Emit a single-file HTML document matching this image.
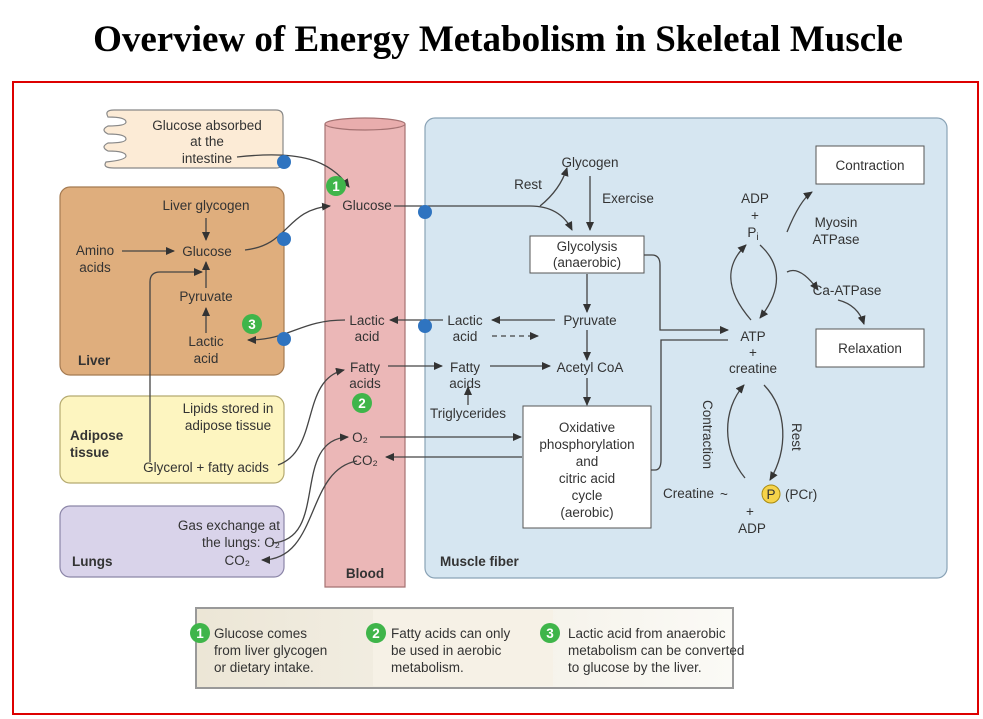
<!DOCTYPE html>
<html><head><meta charset="utf-8"><style>
html,body{margin:0;padding:0;background:#fff;width:983px;height:719px;overflow:hidden}
svg{display:block}
text{font-family:"Liberation Sans",Arial,sans-serif;font-size:13.5px;fill:#333}
.t{font-family:"Liberation Serif",serif;font-weight:bold;font-size:37px;fill:#000}
.b{font-weight:bold}
.ln{stroke:#444;stroke-width:1.3;fill:none}
</style></head><body>
<svg width="983" height="719" viewBox="0 0 983 719">
<defs><marker id="a" markerWidth="9" markerHeight="8" refX="8" refY="4" orient="auto" markerUnits="userSpaceOnUse"><path d="M0,0 L9,4 L0,8 z" fill="#333"/></marker></defs>
<text class="t" x="498" y="51" text-anchor="middle">Overview of Energy Metabolism in Skeletal Muscle</text>
<rect x="13" y="82" width="965" height="632" fill="none" stroke="#d00" stroke-width="2"/>

<!-- intestine -->
<g>
<path d="M114,110 H276 Q283,110 283,117 V162 Q283,168 276,168 H114 Q102,168 106,162 Q126,160 126,156 Q126,151 108,151 Q100,147 108,143 Q126,143 126,139 Q126,134 108,134 Q100,130 108,126 Q126,126 126,122 Q126,117 108,117 Q104,110 114,110 Z" fill="#fcebd6" stroke="#888" stroke-width="1.2"/>
<text x="207" y="130" text-anchor="middle">Glucose absorbed</text>
<text x="207" y="146" text-anchor="middle">at the</text>
<text x="207" y="163" text-anchor="middle">intestine</text>
</g>
<!-- liver -->
<g>
<rect x="60" y="187" width="224" height="188" rx="10" fill="#dfae7d" stroke="#a57b52" stroke-width="1.2"/>
<text x="206" y="210" text-anchor="middle">Liver glycogen</text>
<text x="95" y="255" text-anchor="middle">Amino</text><text x="95" y="272" text-anchor="middle">acids</text>
<text x="207" y="256" text-anchor="middle">Glucose</text>
<text x="206" y="301" text-anchor="middle">Pyruvate</text>
<text x="206" y="346" text-anchor="middle">Lactic</text><text x="206" y="363" text-anchor="middle">acid</text>
<text class="b" x="78" y="365">Liver</text>
</g>
<!-- adipose -->
<g>
<rect x="60" y="396" width="224" height="87" rx="10" fill="#fdf5c0" stroke="#b5aa70" stroke-width="1.2"/>
<text x="228" y="413" text-anchor="middle">Lipids stored in</text>
<text x="228" y="430" text-anchor="middle">adipose tissue</text>
<text class="b" x="70" y="440">Adipose</text><text class="b" x="70" y="457">tissue</text>
<text x="206" y="472" text-anchor="middle">Glycerol + fatty acids</text>
</g>
<!-- lungs -->
<g>
<rect x="60" y="506" width="224" height="71" rx="10" fill="#d9d3ea" stroke="#8c86a8" stroke-width="1.2"/>
<text x="280" y="530" text-anchor="end">Gas exchange at</text>
<text x="280" y="547" text-anchor="end">the lungs: O₂</text>
<text x="250" y="565" text-anchor="end">CO₂</text>
<text class="b" x="72" y="566">Lungs</text>
</g>
<!-- muscle -->
<g>
<rect x="425" y="118" width="522" height="460" rx="10" fill="#d6e6f1" stroke="#8aa3b6" stroke-width="1.2"/>
<text class="b" x="440" y="566">Muscle fiber</text>
</g>
<!-- blood -->
<g>
<path d="M325,124 V587 H405 V124" fill="#ebb7b7" stroke="#a57272" stroke-width="1.2"/>
<ellipse cx="365" cy="124" rx="40" ry="6" fill="#e9adad" stroke="#a57272" stroke-width="1.2"/>
<text class="b" x="365" y="578" text-anchor="middle">Blood</text>
<text x="367" y="210" text-anchor="middle">Glucose</text>
<text x="367" y="325" text-anchor="middle">Lactic</text><text x="367" y="341" text-anchor="middle">acid</text>
<text x="365" y="372" text-anchor="middle">Fatty</text><text x="365" y="388" text-anchor="middle">acids</text>
<text x="360" y="442" text-anchor="middle">O₂</text>
<text x="365" y="465" text-anchor="middle">CO₂</text>
</g>
<!-- muscle texts & boxes -->
<text x="590" y="167" text-anchor="middle">Glycogen</text>
<text x="528" y="189" text-anchor="middle">Rest</text>
<text x="628" y="203" text-anchor="middle">Exercise</text>
<rect x="530" y="236" width="114" height="37" fill="#fff" stroke="#555"/>
<text x="587" y="251" text-anchor="middle">Glycolysis</text><text x="587" y="267" text-anchor="middle">(anaerobic)</text>
<text x="590" y="325" text-anchor="middle">Pyruvate</text>
<text x="465" y="325" text-anchor="middle">Lactic</text><text x="465" y="341" text-anchor="middle">acid</text>
<text x="465" y="372" text-anchor="middle">Fatty</text><text x="465" y="388" text-anchor="middle">acids</text>
<text x="590" y="372" text-anchor="middle">Acetyl CoA</text>
<text x="468" y="418" text-anchor="middle">Triglycerides</text>
<rect x="523" y="406" width="128" height="122" fill="#fff" stroke="#555"/>
<text x="587" y="432" text-anchor="middle">Oxidative</text>
<text x="587" y="449" text-anchor="middle">phosphorylation</text>
<text x="587" y="466" text-anchor="middle">and</text>
<text x="587" y="483" text-anchor="middle">citric acid</text>
<text x="587" y="500" text-anchor="middle">cycle</text>
<text x="587" y="517" text-anchor="middle">(aerobic)</text>
<rect x="816" y="146" width="108" height="38" fill="#fff" stroke="#555"/>
<text x="870" y="170" text-anchor="middle">Contraction</text>
<rect x="816" y="329" width="108" height="38" fill="#fff" stroke="#555"/>
<text x="870" y="353" text-anchor="middle">Relaxation</text>
<text x="755" y="203" text-anchor="middle">ADP</text><text x="755" y="220" text-anchor="middle">+</text><text x="753" y="237" text-anchor="middle">P<tspan font-size="10" dy="3">i</tspan></text>
<text x="836" y="227" text-anchor="middle">Myosin</text><text x="836" y="244" text-anchor="middle">ATPase</text>
<text x="847" y="295" text-anchor="middle">Ca-ATPase</text>
<text x="753" y="341" text-anchor="middle">ATP</text><text x="753" y="357" text-anchor="middle">+</text><text x="753" y="373" text-anchor="middle">creatine</text>
<text x="714" y="498" text-anchor="end">Creatine</text>
<text x="720" y="499">~</text>
<circle cx="771" cy="494" r="9" fill="#f6d34a" stroke="#a88a10"/><text x="771" y="499" text-anchor="middle" font-size="11">P</text>
<text x="785" y="499">(PCr)</text>
<text x="750" y="516" text-anchor="middle">+</text><text x="752" y="533" text-anchor="middle">ADP</text>
<text x="0" y="0" transform="translate(703,400) rotate(90)">Contraction</text>
<text x="0" y="0" transform="translate(792,423) rotate(90)">Rest</text>

<!-- arrows -->
<g>
<path class="ln" d="M237,157 C300,150 330,160 349,187" marker-end="url(#a)"/>
<path class="ln" d="M245,250 C290,245 285,210 330,206" marker-end="url(#a)"/>
<path class="ln" d="M394,206 H530 Q560,206 572,230" marker-end="url(#a)"/>
<path class="ln" d="M540,206 Q560,190 567,168" marker-end="url(#a)"/>
<path class="ln" d="M590,176 V230" marker-end="url(#a)"/>
<path class="ln" d="M206,218 V240" marker-end="url(#a)"/>
<path class="ln" d="M122,251 H174" marker-end="url(#a)"/>
<path class="ln" d="M206,288 V262" marker-end="url(#a)"/>
<path class="ln" d="M206,333 V308" marker-end="url(#a)"/>
<path class="ln" d="M150,462 V282 Q150,272 160,272 H202" marker-end="url(#a)"/>
<path class="ln" d="M345,320 C300,320 290,340 248,340" marker-end="url(#a)"/>
<path class="ln" d="M443,320 H390" marker-end="url(#a)"/>
<path class="ln" d="M555,320 H492" marker-end="url(#a)"/>
<path class="ln" d="M492,336 H538" stroke-dasharray="5,4" marker-end="url(#a)"/>
<path class="ln" d="M587,274 V312" marker-end="url(#a)"/>
<path class="ln" d="M587,330 V360" marker-end="url(#a)"/>
<path class="ln" d="M490,366 H550" marker-end="url(#a)"/>
<path class="ln" d="M388,366 H442" marker-end="url(#a)"/>
<path class="ln" d="M468,405 V387" marker-end="url(#a)"/>
<path class="ln" d="M587,378 V405" marker-end="url(#a)"/>
<path class="ln" d="M278,465 C320,450 300,380 344,370" marker-end="url(#a)"/>
<path class="ln" d="M272,543 C330,540 290,440 348,437" marker-end="url(#a)"/>
<path class="ln" d="M380,437 H521" marker-end="url(#a)"/>
<path class="ln" d="M522,457 H386" marker-end="url(#a)"/>
<path class="ln" d="M357,461 C305,470 320,560 262,560" marker-end="url(#a)"/>
<path class="ln" d="M644,255 H652 Q660,255 660,265 V330 H728" marker-end="url(#a)"/>
<path class="ln" d="M651,470 H655 Q661,470 661,460 V340 H728"/>
<path class="ln" d="M751,320 C725,290 725,265 746,245" marker-end="url(#a)"/>
<path class="ln" d="M760,245 C782,265 782,290 760,318" marker-end="url(#a)"/>
<path class="ln" d="M787,232 Q800,200 812,192" marker-end="url(#a)"/>
<path class="ln" d="M787,272 Q800,265 818,290" marker-end="url(#a)"/>
<path class="ln" d="M838,300 Q858,305 864,324" marker-end="url(#a)"/>
<path class="ln" d="M745,478 C722,450 722,410 744,385" marker-end="url(#a)"/>
<path class="ln" d="M764,385 C788,410 788,450 770,480" marker-end="url(#a)"/>
</g>
<!-- blue dots -->
<g fill="#2f74c0">
<circle cx="284" cy="162" r="7"/><circle cx="284" cy="239" r="7"/><circle cx="284" cy="339" r="7"/>
<circle cx="425" cy="212" r="7"/><circle cx="425" cy="326" r="7"/>
</g>
<!-- green badges -->
<g>
<circle cx="336" cy="186" r="10" fill="#3fb54a"/><text x="336" y="191" text-anchor="middle" style="fill:#fff" class="b">1</text>
<circle cx="362" cy="403" r="10" fill="#3fb54a"/><text x="362" y="408" text-anchor="middle" style="fill:#fff" class="b">2</text>
<circle cx="252" cy="324" r="10" fill="#3fb54a"/><text x="252" y="329" text-anchor="middle" style="fill:#fff" class="b">3</text>
</g>
<!-- legend -->
<g>
<defs><linearGradient id="g" x1="0" x2="1"><stop offset="0" stop-color="#ece6d6"/><stop offset="1" stop-color="#fbfaf6"/></linearGradient></defs>
<rect x="196" y="608" width="537" height="80" fill="url(#g)" stroke="#999" stroke-width="2"/>
<rect x="373" y="610" width="180" height="76" fill="#f6f1e6"/>
<circle cx="200" cy="633" r="10" fill="#3fb54a"/><text x="200" y="638" text-anchor="middle" style="fill:#fff" class="b">1</text>
<text x="214" y="638">Glucose comes</text><text x="214" y="655">from liver glycogen</text><text x="214" y="672">or dietary intake.</text>
<circle cx="376" cy="633" r="10" fill="#3fb54a"/><text x="376" y="638" text-anchor="middle" style="fill:#fff" class="b">2</text>
<text x="391" y="638">Fatty acids can only</text><text x="391" y="655">be used in aerobic</text><text x="391" y="672">metabolism.</text>
<circle cx="550" cy="633" r="10" fill="#3fb54a"/><text x="550" y="638" text-anchor="middle" style="fill:#fff" class="b">3</text>
<text x="568" y="638">Lactic acid from anaerobic</text><text x="568" y="655">metabolism can be converted</text><text x="568" y="672">to glucose by the liver.</text>
</g>
</svg>
</body></html>
